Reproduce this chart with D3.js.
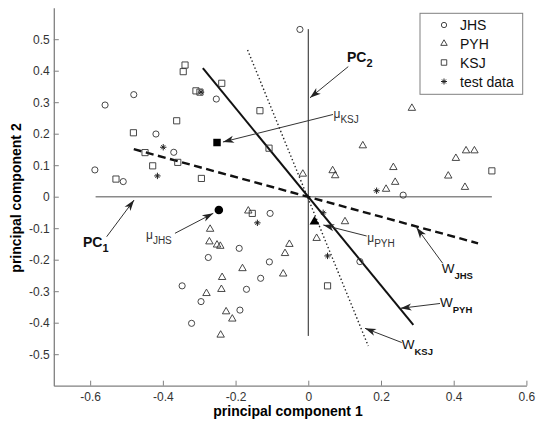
<!DOCTYPE html>
<html><head><meta charset="utf-8">
<script src="https://cdn.jsdelivr.net/npm/d3@7"></script>
<style>
body{margin:0;background:#fff}
svg{display:block}
text{font-family:Arial,"Liberation Sans",sans-serif}
</style>
</head><body>
<svg id="c" width="541" height="421"></svg>
<script>
// ---- data ----
const classes = ["JHS", "PYH", "KSJ"];
const jhsX = [-0.023,-0.480,-0.559,-0.253,-0.419,-0.370,-0.587,-0.509,-0.105,0.261,-0.190,-0.275,-0.107,0.142,-0.347,-0.131,-0.170,-0.295,-0.188,-0.321];
const jhsY = [0.531,0.324,0.291,0.310,0.199,0.141,0.085,0.048,-0.053,0.005,-0.164,-0.193,-0.207,-0.206,-0.283,-0.259,-0.294,-0.333,-0.360,-0.402];
const pyhX = [0.285,-0.015,0.067,0.074,0.150,0.234,0.239,0.214,0.434,0.457,0.406,0.385,0.431,-0.165,0.101,0.023,-0.270,-0.272,-0.251,-0.242,-0.052,-0.064,-0.181,-0.280,-0.237,-0.069,-0.239,-0.226,-0.209,-0.241];
const pyhY = [0.281,0.072,0.083,0.067,0.162,0.093,0.046,0.024,0.146,0.146,0.122,0.066,0.030,-0.045,-0.079,-0.132,-0.103,-0.143,-0.153,-0.157,-0.151,-0.180,-0.228,-0.307,-0.256,-0.245,-0.294,-0.365,-0.388,-0.439];
const ksjX = [-0.339,-0.344,-0.309,-0.298,-0.238,-0.362,-0.133,-0.481,-0.449,-0.359,-0.428,-0.529,-0.294,-0.108,-0.154,0.053,0.505];
const ksjY = [0.418,0.397,0.336,0.332,0.360,0.241,0.273,0.203,0.140,0.109,0.098,0.056,0.058,0.154,-0.053,-0.283,0.082];
const testX = [-0.295,-0.399,-0.415,-0.140,0.041,0.053,0.188];
const testY = [0.332,0.157,0.066,-0.083,-0.051,-0.188,0.019];
const meanX = [-0.246, 0.017, -0.251];   // JHS, PYH, KSJ
const meanY = [-0.042, -0.079, 0.172];
const wJHS = [[-0.48, 0.151], [0.467, -0.148]];
const wPYH = [[-0.29, 0.408], [0.289, -0.407]];
const wKSJ = [[-0.167, 0.466], [0.165, -0.474]];
const pc1Line = [[-0.585, 0], [0.505, 0]];
const pc2Line = [[0, 0.532], [0, -0.442]];
const xTicks = [-0.6,-0.4,-0.2,0,0.2,0.4,0.6];
const xTickLabels = ["-0.6","-0.4","-0.2","0","0.2","0.4","0.6"];
const yTicks = [-0.5,-0.4,-0.3,-0.2,-0.1,0,0.1,0.2,0.3,0.4,0.5];
const yTickLabels = ["-0.5","-0.4","-0.3","-0.2","-0.1","0","0.1","0.2","0.3","0.4","0.5"];
const legendLabels = ["JHS", "PYH", "KSJ", "test data"];
// annotations: text, subscript, label pos, arrow from, arrow to (data units)
const annotations = [
  {t:"PC", s:"2", kind:"pc", lx:0.1065, ly:0.427, fx:0.110, fy:0.413, tx:0.0047, ty:0.314},
  {t:"PC", s:"1", kind:"pc", lx:-0.6198, ly:-0.1587, fx:-0.5546, fy:-0.127, tx:-0.4791, ty:-0.0105},
  {t:"\u03bc", s:"KSJ", kind:"mu", lx:0.0693, ly:0.250, fx:0.068, fy:0.261, tx:-0.2347, ty:0.1737},
  {t:"\u03bc", s:"JHS", kind:"mu", lx:-0.4465, ly:-0.133, fx:-0.3667, fy:-0.1162, tx:-0.2613, ty:-0.0527},
  {t:"\u03bc", s:"PYH", kind:"mu", lx:0.1623, ly:-0.144, fx:0.1607, fy:-0.1248, tx:0.0413, ty:-0.0898},
  {t:"W", s:"JHS", kind:"w", lx:0.367, ly:-0.2422, fx:0.3697, fy:-0.2114, tx:0.2977, ty:-0.0978},
  {t:"W", s:"PYH", kind:"w", lx:0.3623, ly:-0.3492, fx:0.3623, fy:-0.339, tx:0.2536, ty:-0.3543},
  {t:"W", s:"KSJ", kind:"w", lx:0.257, ly:-0.4838, fx:0.257, fy:-0.4629, tx:0.156, ty:-0.4178}
];

// ---- chart ----
const svg = d3.select("#c");
const x = d3.scaleLinear().domain([-0.7, 0.6]).range([53.8, 526.4]);
const y = d3.scaleLinear().domain([-0.6, 0.6]).range([385.7, 7.7]);
const axisCol = "#808080", txtCol = "#333";

const defs = svg.append("defs");
defs.append("marker").attr("id","ah").attr("viewBox","-12 -5 13 10")
  .attr("refX",0).attr("refY",0).attr("markerWidth",13).attr("markerHeight",10)
  .attr("markerUnits","userSpaceOnUse").attr("orient","auto")
  .append("path").attr("d","M0,0 L-11,-3.6 L-8,0 L-11,3.6 Z").attr("fill","#222");

// axes
const gx = svg.append("g").attr("transform",`translate(0,${y(-0.6)})`)
  .call(d3.axisBottom(x).tickValues(xTicks).tickFormat((d,i)=>xTickLabels[i]).tickSizeInner(-5).tickSizeOuter(0).tickPadding(7));
const gy = svg.append("g").attr("transform",`translate(${x(-0.7)},0)`)
  .call(d3.axisLeft(y).tickValues(yTicks).tickFormat((d,i)=>yTickLabels[i]).tickSizeInner(-5).tickSizeOuter(0).tickPadding(4));
[gx, gy].forEach(g => {
  g.select(".domain").attr("stroke", axisCol).attr("stroke-width", 1.3);
  g.selectAll(".tick line").attr("stroke", axisCol);
  g.selectAll(".tick text").attr("fill", txtCol).attr("font-size", 12)
   .attr("font-family", 'Arial,"Liberation Sans",sans-serif');
});

svg.append("text").attr("x", 288).attr("y", 416).attr("text-anchor","middle")
  .attr("font-size", 14).attr("font-weight","bold").text("principal component 1");
svg.append("text").attr("transform","translate(21,198) rotate(-90)").attr("text-anchor","middle")
  .attr("font-size", 14).attr("font-weight","bold").text("principal component 2");

const line = d3.line().x(d=>x(d[0])).y(d=>y(d[1]));
// PC axes
svg.append("path").attr("d", line(pc1Line)).attr("stroke","#8a8a8a").attr("stroke-width",1.6).attr("fill","none");
svg.append("path").attr("d", line(pc2Line)).attr("stroke","#222").attr("stroke-width",1).attr("fill","none");
// projection directions
svg.append("path").attr("d", line(wKSJ)).attr("stroke","#222").attr("stroke-width",1.4)
  .attr("stroke-dasharray","1.4,2.4").attr("fill","none");
svg.append("path").attr("d", line(wPYH)).attr("stroke","#111").attr("stroke-width",2).attr("fill","none");
svg.append("path").attr("d", line(wJHS)).attr("stroke","#111").attr("stroke-width",2.4)
  .attr("stroke-dasharray","8,4.5").attr("fill","none");

// points
const sym = (type, size) => d3.symbol().type(type).size(size)();
function drawPts(xs, ys, type, size) {
  svg.append("g").selectAll("path").data(xs.map((v,i)=>[v, ys[i]])).join("path")
    .attr("transform", d=>`translate(${x(d[0])},${y(d[1])})`)
    .attr("d", sym(type, size)).attr("fill","none").attr("stroke","#333").attr("stroke-width",0.9);
}
drawPts(jhsX, jhsY, d3.symbolCircle, 30);
drawPts(pyhX, pyhY, d3.symbolTriangle, 24);
drawPts(ksjX, ksjY, d3.symbolSquare, 38);
const starPath = "M0,-3.2V3.2M-3.2,0H3.2M-2,-2L2,2M-2,2L2,-2";
svg.append("g").selectAll("path").data(testX.map((v,i)=>[v, testY[i]])).join("path")
  .attr("transform", d=>`translate(${x(d[0])},${y(d[1])})`)
  .attr("d", starPath).attr("stroke","#222").attr("stroke-width",1).attr("fill","none");

// class means (filled)
const meanSyms = [[d3.symbolCircle, 58], [d3.symbolTriangle, 42], [d3.symbolSquare, 56]];
svg.append("g").selectAll("path").data(meanX.map((v,i)=>[v, meanY[i], i])).join("path")
  .attr("transform", d=>`translate(${x(d[0])},${y(d[1])})`)
  .attr("d", d=>sym(meanSyms[d[2]][0], meanSyms[d[2]][1])).attr("fill","#000");

// annotations
annotations.forEach(a => {
  svg.append("line").attr("x1", x(a.fx)).attr("y1", y(a.fy)).attr("x2", x(a.tx)).attr("y2", y(a.ty))
    .attr("stroke","#333").attr("stroke-width",1).attr("marker-end","url(#ah)");
  const t = svg.append("text").attr("x", x(a.lx)).attr("y", y(a.ly)).attr("fill", a.kind==="mu" ? "#333" : "#111");
  if (a.kind === "pc") {
    t.append("tspan").attr("font-size",14).attr("font-weight","bold").text(a.t);
    t.append("tspan").attr("font-size",11).attr("font-weight","bold").attr("dy",5).text(a.s);
  } else if (a.kind === "mu") {
    t.append("tspan").attr("font-size",12).text(a.t);
    t.append("tspan").attr("font-size",10).attr("dy",5).text(a.s);
  } else {
    t.append("tspan").attr("font-size",13.5).text(a.t);
    t.append("tspan").attr("font-size",9.5).attr("font-weight","bold").attr("dy",6).text(a.s);
  }
});

// legend
const lg = svg.append("g");
lg.append("rect").attr("x",420).attr("y",13.3).attr("width",102.7).attr("height",81)
  .attr("fill","#fff").attr("stroke","#808080").attr("stroke-width",1);
const legY = [25, 43.5, 62.5, 81.5];
const legSyms = [[d3.symbolCircle,22],[d3.symbolTriangle,18],[d3.symbolSquare,30],null];
legendLabels.forEach((lab,i) => {
  if (legSyms[i]) {
    lg.append("path").attr("transform",`translate(444,${legY[i]})`).attr("d", sym(legSyms[i][0], legSyms[i][1]))
      .attr("fill","none").attr("stroke","#333").attr("stroke-width",0.9);
  } else {
    lg.append("path").attr("transform",`translate(444,${legY[i]})`).attr("d", "M0,-3V3M-3,0H3M-2,-2L2,2M-2,2L2,-2")
      .attr("stroke","#222").attr("stroke-width",1);
  }
  lg.append("text").attr("x",460).attr("y",legY[i]+5).attr("font-size",14).attr("fill","#111").text(lab);
});
</script>
</body></html>
